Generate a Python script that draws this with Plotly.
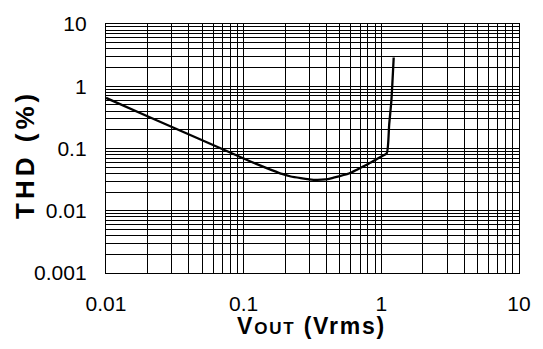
import plotly.graph_objects as go
import numpy as np

# Data
vout = [0.01, 0.02, 0.05, 0.1, 0.13, 0.16, 0.19, 0.22, 0.26, 0.3, 0.336, 0.39, 0.45, 0.5, 0.581, 0.68, 0.81, 0.9, 1.0, 1.094, 1.14, 1.183, 1.23]
thd = [0.65, 0.33, 0.136, 0.069, 0.054, 0.045, 0.039, 0.0355, 0.0334, 0.032, 0.0313, 0.0318, 0.034, 0.036, 0.0396, 0.047, 0.057, 0.065, 0.0745, 0.0835, 0.24, 0.59, 2.9]

x_tickvals = [0.01, 0.1, 1, 10]
x_ticktext = ["0.01", "0.1", "1", "10"]
y_tickvals = [0.001, 0.01, 0.1, 1, 10]
y_ticktext = ["0.001", "0.01", "0.1", "1", "10"]

x_title = ("<span style='letter-spacing:1.8px'><b>V<span style='font-size:17px'>OUT</span>"
           " (Vrms)</b></span>")
y_title = "<span style='letter-spacing:4px'><b>THD (%)</b></span>"

FONT = "Liberation Sans, Arial, Helvetica, sans-serif"

fig = go.Figure()
fig.add_trace(go.Scatter(x=vout, y=thd, mode="lines",
                         line=dict(color="black", width=2.3, shape="spline", smoothing=0.6),
                         showlegend=False, hoverinfo="skip"))

axis_common = dict(
    type="log",
    showgrid=True, gridcolor="black", gridwidth=1.2,
    showline=True, linecolor="black", linewidth=1.4, mirror=True,
    ticks="", zeroline=False,
    tickfont=dict(family=FONT, size=21, color="black"),
    minor=dict(dtick="D1", showgrid=True, gridcolor="black", gridwidth=1.2, ticks=""),
)

fig.update_xaxes(range=[np.log10(0.01), np.log10(10)],
                 tickmode="array", tickvals=x_tickvals, ticktext=x_ticktext,
                 ticklabelstandoff=12, **axis_common)
fig.update_yaxes(range=[np.log10(0.001), np.log10(10)],
                 tickmode="array", tickvals=y_tickvals, ticktext=y_ticktext,
                 ticklabelstandoff=14, **axis_common)

fig.add_annotation(text=y_title, xref="paper", yref="paper", x=-0.196, y=0.4745,
                   xanchor="center", yanchor="middle", textangle=-90, showarrow=False,
                   font=dict(family=FONT, size=26, color="black"))
fig.add_annotation(text=x_title, xref="paper", yref="paper", x=0.4976, y=-0.212,
                   xanchor="center", yanchor="middle", showarrow=False,
                   font=dict(family=FONT, size=23, color="black"))

fig.update_layout(width=543, height=349,
                  margin=dict(l=106, r=22, t=18, b=76),
                  paper_bgcolor="white", plot_bgcolor="white",
                  font=dict(family=FONT, color="black"))

fig.write_html("out.html")
